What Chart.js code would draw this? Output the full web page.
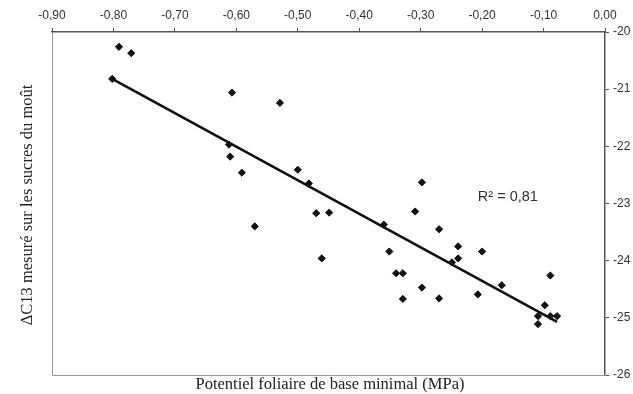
<!DOCTYPE html>
<html>
<head>
<meta charset="utf-8">
<script src="https://cdn.jsdelivr.net/npm/chart.js@4"></script>
<style>
  html, body { margin: 0; padding: 0; background: #fff; }
  #wrap { width: 633px; height: 394px; }
</style>
</head>
<body>
<div id="wrap"><canvas id="deltaChart" width="633" height="394"></canvas></div>
<script>
// potentiel foliaire (MPa) et ΔC13
const potentiel = [-0.802, -0.791, -0.771, -0.607, -0.529, -0.612, -0.610, -0.591, -0.500, -0.482,
                   -0.470, -0.449, -0.570, -0.461, -0.360, -0.351, -0.340, -0.329, -0.329, -0.298,
                   -0.309, -0.298, -0.270, -0.270, -0.249, -0.239, -0.239, -0.200, -0.207, -0.168,
                   -0.089, -0.098, -0.109, -0.109, -0.089, -0.078];
const deltaC13 = [-20.82, -20.26, -20.37, -21.06, -21.24, -21.97, -22.18, -22.46, -22.41, -22.65,
                  -23.17, -23.16, -23.40, -23.96, -23.37, -23.84, -24.22, -24.22, -24.67, -22.63,
                  -23.14, -24.47, -23.45, -24.66, -24.03, -23.96, -23.75, -23.84, -24.59, -24.43,
                  -24.26, -24.78, -24.97, -25.11, -24.97, -24.97];

// droite de régression (extrémités)
const trendX = [-0.802, -0.078];
const trendY = [-20.82, -25.07];

const xTicks = [-0.9, -0.8, -0.7, -0.6, -0.5, -0.4, -0.3, -0.2, -0.1, 0];
const yTicks = [-20, -21, -22, -23, -24, -25, -26];
const r2Label = 'R² = 0,81';
const r2Pos = [-0.207, -22.88];

const xTitle = 'Potentiel foliaire de base minimal (MPa)';
const yTitle = 'ΔC13 mesuré sur les sucres du moût';

const points = potentiel.map((x, i) => ({ x: x, y: deltaC13[i] }));
const trend = trendX.map((x, i) => ({ x: x, y: trendY[i] }));

// cadre, titres et R²
const decorPlugin = {
    id: 'decor',
    beforeDatasetsDraw(chart) {
        const { ctx, chartArea: a } = chart;
        ctx.save();
        ctx.strokeStyle = '#999';
        ctx.lineWidth = 1;
        ctx.beginPath();
        ctx.moveTo(a.left + 0.5, a.top);
        ctx.lineTo(a.left + 0.5, a.bottom + 0.5);
        ctx.lineTo(a.right, a.bottom + 0.5);
        ctx.stroke();
        ctx.restore();
    },
    afterDraw(chart) {
        const { ctx, scales } = chart;
        ctx.save();
        ctx.fillStyle = '#222';
        ctx.font = '16.5px "Liberation Serif", "Times New Roman", serif';
        ctx.textAlign = 'center';
        ctx.textBaseline = 'middle';
        ctx.fillText(xTitle, 330, 385);
        ctx.translate(28, 205);
        ctx.rotate(-Math.PI / 2);
        ctx.fillText(yTitle, 0, 0);
        ctx.restore();

        ctx.save();
        ctx.fillStyle = '#333';
        ctx.font = '14.5px "Liberation Sans", Arial, sans-serif';
        ctx.textAlign = 'left';
        ctx.textBaseline = 'middle';
        ctx.fillText(r2Label, scales.x.getPixelForValue(r2Pos[0]), scales.y.getPixelForValue(r2Pos[1]));
        ctx.restore();
    }
};

const tickFont = { family: '"Liberation Sans", Arial, sans-serif', size: 12 };

new Chart(document.getElementById('deltaChart').getContext('2d'), {
    type: 'scatter',
    data: {
        datasets: [{
            label: 'mesures',
            data: points,
            pointStyle: 'rectRot',
            pointRadius: 3.6,
            backgroundColor: '#111',
            borderColor: '#111',
            borderWidth: 1
        }, {
            label: 'régression',
            type: 'line',
            data: trend,
            borderColor: '#111',
            borderWidth: 2.6,
            pointRadius: 0,
            fill: false
        }]
    },
    options: {
        responsive: false,
        animation: false,
        layout: { padding: { left: 52, right: 0, top: 0, bottom: 19 } },
        plugins: {
            legend: { display: false },
            tooltip: { enabled: false }
        },
        scales: {
            x: {
                type: 'linear',
                position: 'top',
                min: -0.9,
                max: 0,
                afterBuildTicks: s => { s.ticks = xTicks.map(v => ({ value: v })); },
                afterFit: s => { s.height = 32; },
                ticks: {
                    font: tickFont,
                    color: '#333',
                    padding: 5,
                    maxRotation: 0,
                    callback: v => v.toFixed(2).replace('.', ',')
                },
                grid: { drawOnChartArea: false, tickLength: 4, color: '#555' },
                border: { color: '#555', width: 1.5 }
            },
            y: {
                type: 'linear',
                position: 'right',
                min: -26,
                max: -20,
                afterBuildTicks: s => { s.ticks = yTicks.map(v => ({ value: v })); },
                afterFit: s => { s.width = 28; },
                ticks: {
                    font: tickFont,
                    color: '#333',
                    padding: 4,
                    callback: v => String(v)
                },
                grid: { drawOnChartArea: false, tickLength: 4, color: '#555' },
                border: { color: '#555', width: 1.5 }
            }
        }
    },
    plugins: [decorPlugin]
});
</script>
</body>
</html>
